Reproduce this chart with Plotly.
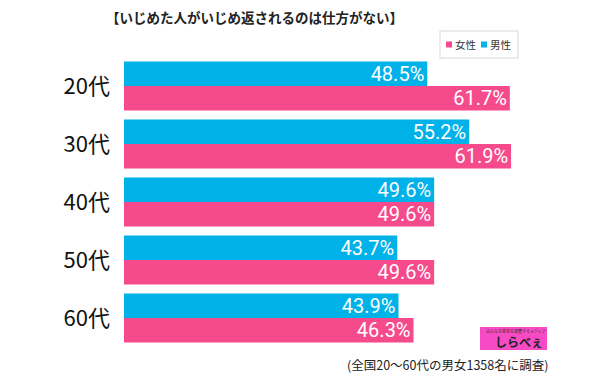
import plotly.graph_objects as go

categories = ["20代", "30代", "40代", "50代", "60代"]
male = [48.5, 55.2, 49.6, 43.7, 43.9]
female = [61.7, 61.9, 49.6, 49.6, 46.3]
legend_names = ["女性", "男性"]

BLUE = "#00B2E8"
PINK = "#F54A8C"
FONT = "Noto Sans CJK JP"

# the page has an 8px body margin; work in page pixel coordinates
OFF = 8
W, H = 600 - OFF, 377 - OFF
L, R, T, B = 124 - OFF, 7, 57 - OFF, 30
PW, PH = W - L - R, H - T - B


def px(x):
    return (x - OFF - L) / PW


def py(y):
    return (H - B - (y - OFF)) / PH


fig = go.Figure()
for vals, name, col in [(male, "男性", BLUE), (female, "女性", PINK)]:
    fig.add_trace(go.Bar(
        y=categories, x=vals, name=name, orientation="h",
        marker=dict(color=col, line=dict(width=0)),
        texttemplate="%{x:.1f}%", textposition="inside", insidetextanchor="end",
        constraintext="none",
        textfont=dict(color="white", size=20, family="Roboto"),
    ))

fig.update_layout(
    width=W, height=H,
    margin=dict(l=L, r=R, t=T, b=B, autoexpand=False),
    paper_bgcolor="white", plot_bgcolor="white",
    barmode="group", bargap=0.155, bargroupgap=0,
    font=dict(family=FONT, color="#222"),
    showlegend=False,
    xaxis=dict(range=[0, 75], visible=False),
    yaxis=dict(autorange="reversed", showline=False, showgrid=False, ticks="",
               tickfont=dict(size=22, color="#111", family=FONT), ticklabelstandoff=13),
)

# title
fig.add_annotation(text="<b>【いじめた人がいじめ返されるのは仕方がない】</b>",
                   x=px(254), y=py(17), xref="paper", yref="paper", showarrow=False,
                   xanchor="center", yanchor="middle",
                   font=dict(size=13.5, color="#222"))

# legend (manual box)
fig.add_shape(type="rect", xref="paper", yref="paper",
              x0=px(440), x1=px(518), y0=py(58), y1=py(31),
              fillcolor="white", line=dict(color="#e6e6e6", width=1.5))
for i, (name, col) in enumerate(zip(legend_names, [PINK, BLUE])):
    x0 = 446 + i * 35
    fig.add_shape(type="rect", xref="paper", yref="paper",
                  x0=px(x0), x1=px(x0 + 6), y0=py(47.5), y1=py(41.5),
                  fillcolor=col, line=dict(width=0))
    fig.add_annotation(text=name, x=px(x0 + 7), y=py(44.5), xref="paper", yref="paper",
                       showarrow=False, xanchor="left", yanchor="middle",
                       font=dict(size=10.5, color="#333"))

# footer
fig.add_annotation(text="(全国20～60代の男女1358名に調査)", x=px(447), y=py(364),
                   xref="paper", yref="paper", showarrow=False, xanchor="center", yanchor="middle",
                   font=dict(size=12.5, color="#222"))

# logo
fig.add_shape(type="rect", xref="paper", yref="paper",
              x0=px(480), x1=px(547), y0=py(350), y1=py(327),
              fillcolor="#F64BC4", line=dict(width=0))
fig.add_annotation(text="<b>しらべぇ</b>", x=px(519), y=py(341), xref="paper", yref="paper",
                   showarrow=False, xanchor="center", yanchor="middle",
                   font=dict(size=12, color="#222"))
fig.add_annotation(text="みんなの意見を調査するメディア", x=px(516), y=py(331), xref="paper", yref="paper",
                   showarrow=False, xanchor="center", yanchor="middle",
                   font=dict(size=4, color="#333"))

fig.write_html("out.html")
